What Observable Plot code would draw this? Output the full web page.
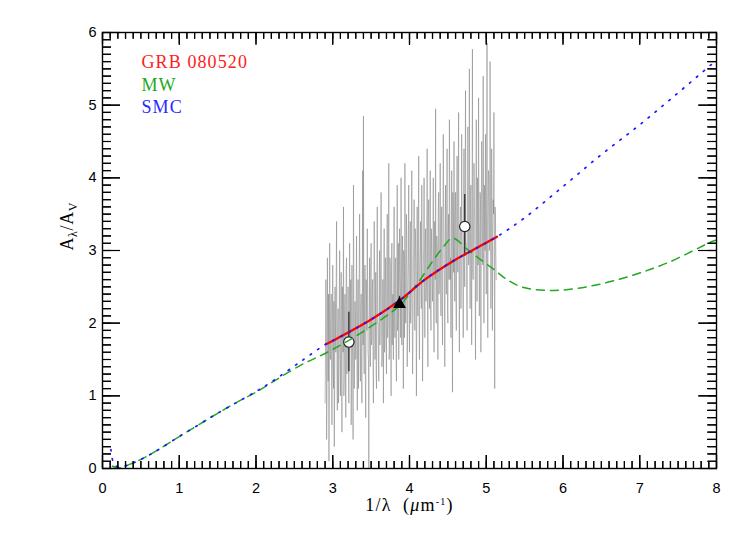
<!DOCTYPE html>
<html><head><meta charset="utf-8">
<script src="https://cdn.jsdelivr.net/npm/d3@7"></script>
<script src="https://cdn.jsdelivr.net/npm/@observablehq/plot@0.6"></script>
<style>body{margin:0;background:#fff;overflow:hidden}</style>
</head><body><div id="chart"></div>
<script>
// ---- data ----
const xDomain = [0, 8];
const yDomain = [0, 6];
const xMajor = [0, 1, 2, 3, 4, 5, 6, 7, 8];
const yMajor = [0, 1, 2, 3, 4, 5, 6];
const xMinor = d3.range(0, 8.0001, 0.1);
const yMinor = d3.range(0, 6.0001, 0.1);

const legendLabels = ["GRB 080520", "MW", "SMC"];
const legendColors = ["#ff2020", "#22a822", "#2a2aff"];

const xTitle = "1/λ (μm⁻¹)";
const yTitle = "Aλ/AV";

// SMC extinction curve (blue dotted)
const smcX = [0.11, 0.12, 0.14, 0.17, 0.23, 0.36, 0.47, 0.60, 0.76, 1.00, 1.25, 1.50, 1.75, 2.00, 2.20, 2.58, 2.91, 3.04, 3.50, 3.88, 4.20, 4.56, 4.85, 5.14, 5.50, 6.00, 6.50, 7.00, 7.50, 8.00];
const smcY = [0.26, 0.17, 0.09, 0.04, 0.02, 0.06, 0.11, 0.18, 0.28, 0.44, 0.60, 0.76, 0.91, 1.06, 1.19, 1.47, 1.71, 1.78, 2.05, 2.32, 2.60, 2.85, 3.02, 3.19, 3.45, 3.88, 4.32, 4.73, 5.17, 5.62];

// GRB 080520 fit (red solid)
const grbX = [2.91, 3.04, 3.50, 3.88, 4.20, 4.56, 4.85, 5.14];
const grbY = [1.71, 1.78, 2.05, 2.32, 2.60, 2.85, 3.02, 3.19];

// MW extinction curve (green dashed)
const mwX = [0.13, 0.23, 0.36, 0.47, 0.60, 0.76, 1.00, 1.25, 1.50, 1.75, 2.00, 2.20, 2.58, 2.93, 3.36, 3.88, 4.01, 4.14, 4.30, 4.45, 4.56, 4.75, 4.93, 5.10, 5.27, 5.49, 5.88, 6.36, 6.88, 7.36, 7.96, 8.00];
const mwY = [0.03, 0.01, 0.06, 0.11, 0.18, 0.28, 0.44, 0.60, 0.76, 0.91, 1.05, 1.18, 1.42, 1.60, 1.86, 2.25, 2.42, 2.60, 2.85, 3.06, 3.17, 3.02, 2.87, 2.74, 2.60, 2.49, 2.45, 2.51, 2.65, 2.83, 3.13, 3.14];

// photometric points (circles) with error bars
const photX = [3.21, 4.72];
const photY = [1.74, 3.33];
const photLo = [1.33, 2.92];
const photHi = [2.15, 3.77];

// triangle point
const triX = [3.87];
const triY = [2.26];
const triLo = [2.21];
const triHi = [2.37];

// observed spectrum (grey): two interleaved samplings starting at 2.900 and 2.905, step 0.01
const specX0 = 2.90, specStep = 0.01;
const specA = [
  0.9, 2.6, 0.4, 2.9, 1.2, 0.1, 3.1, 1.5, 2.4, 0.6,
  2.8, 1.1, 0.3, 2.5, 1.6, 3.4, 0.8, 2.2, 1.4, 3.0,
  1.0, 2.7, 0.5, 2.1, 3.6, 1.3, 2.4, 0.7, 2.9, 1.6,
  2.5, 0.9, 3.1, 1.7, 0.6, 2.8, 1.4, 3.9, 1.1, 2.3,
  1.5, 3.2, 0.8, 2.6, 1.9, 3.5, 1.2, 2.4, 0.9, 4.1,
  4.85, 1.3, 2.8, 0.7, 2.3, 3.3, 1.6, 0.0, 2.9, 1.4,
  3.1, 1.8, 2.6, 0.9, 3.4, 1.5, 2.7, 1.1, 3.6, 2.0,
  1.2, 3.0, 2.2, 3.8, 1.4, 2.6, 0.9, 3.3, 1.7, 2.9,
  1.3, 3.5, 2.0, 4.2, 1.6, 2.8, 1.0, 3.1, 2.3, 1.5,
  3.6, 1.8, 2.9, 1.2, 3.9, 2.1, 1.5, 3.3, 2.4, 4.0,
  1.7, 3.2, 1.1, 2.8, 4.2, 2.0, 3.5, 1.4, 2.6, 3.9,
  1.6, 3.4, 2.2, 4.1, 1.3, 2.9, 3.7, 1.9, 3.1, 1.0,
  3.6, 2.1, 4.3, 1.5, 3.0, 2.4, 3.9, 1.2, 2.8, 4.0,
  1.8, 3.3, 2.5, 4.4, 1.4, 3.7, 2.2, 4.1, 1.9, 3.0,
  2.3, 4.0, 1.6, 3.4, 4.95, 2.0, 3.1, 1.5, 3.8, 2.6,
  4.2, 2.1, 3.6, 1.7, 4.6, 2.9, 1.4, 3.9, 2.4, 4.4,
  2.0, 3.5, 4.8, 2.6, 1.8, 4.1, 1.05, 3.2, 4.5, 2.3,
  3.8, 1.9, 4.3, 2.7, 4.9, 1.6, 3.4, 2.2, 4.6, 3.0,
  1.8, 4.4, 2.5, 5.2, 3.1, 1.9, 4.7, 2.8, 5.5, 2.2,
  3.9, 1.7, 5.77, 2.6, 4.2, 3.0, 1.5, 4.8, 2.3, 3.6,
  5.1, 2.1, 3.8, 1.6, 4.5, 2.9, 5.4, 2.0, 3.5, 4.6,
  2.4, 5.86, 1.8, 4.1, 3.0, 5.6, 2.2, 4.4, 1.9, 3.7,
  4.9, 1.1, 3.5, 2.6
];
const specB = [
  1.5, 2.2, 1.0, 1.9, 2.4, 0.8, 1.7, 2.1, 1.2, 2.0,
  1.4, 2.3, 1.1, 1.9, 2.6, 1.3, 1.8, 0.9, 2.2, 1.6,
  2.0, 1.2, 2.5, 1.6, 1.0, 2.2, 1.5, 2.7, 1.3, 1.9,
  1.4, 2.1, 1.7, 2.6, 1.2, 1.9, 0.4, 2.3, 1.6, 2.0,
  2.4, 1.5, 2.0, 1.1, 2.7, 1.8, 2.2, 1.4, 2.5, 1.7,
  1.6, 2.3, 1.2, 2.6, 1.9, 2.4, 1.5, 2.1, 1.8, 2.7,
  1.7, 2.4, 1.4, 2.2, 2.8, 1.8, 1.3, 2.5, 2.0, 1.6,
  2.4, 1.7, 2.9, 2.0, 1.5, 2.6, 2.1, 1.6, 2.5, 1.9,
  2.7, 1.8, 2.3, 1.5, 2.9, 2.1, 2.6, 1.7, 2.4, 3.0,
  2.0, 2.8, 1.6, 2.5, 1.9, 3.1, 2.2, 2.7, 1.8, 2.4,
  2.8, 2.1, 3.0, 1.8, 2.6, 2.3, 3.2, 1.9, 2.9, 2.2,
  2.5, 2.0, 3.1, 2.4, 1.8, 2.9, 2.2, 3.3, 2.6, 2.1,
  2.3, 3.2, 2.0, 2.8, 3.4, 2.2, 2.6, 1.9, 3.0, 2.5,
  3.1, 2.3, 2.8, 2.0, 3.5, 2.6, 3.0, 2.2, 3.3, 2.7,
  2.9, 2.2, 3.4, 2.6, 2.1, 3.2, 2.8, 3.6, 2.4, 3.0,
  2.6, 3.3, 2.3, 3.0, 3.7, 2.5, 3.1, 2.8, 3.5, 2.2,
  3.2, 2.6, 3.6, 2.9, 3.3, 2.4, 3.8, 2.7, 3.1, 3.5,
  2.5, 3.4, 2.9, 3.9, 2.7, 3.2, 3.6, 2.6, 3.3, 2.9,
  3.5, 2.8, 3.8, 3.1, 2.6, 3.4, 3.9, 2.9, 3.3, 3.7,
  3.1, 3.6, 2.7, 3.4, 3.9, 2.9, 3.5, 3.2, 4.0, 2.8,
  3.4, 2.9, 3.7, 3.2, 4.1, 2.8, 3.5, 3.9, 3.0, 3.3,
  3.8, 2.9, 3.4, 4.0, 3.1, 3.6, 2.7, 3.9, 3.2, 3.5,
  3.0, 3.6, 2.9
];

// ---- tables built from the arrays ----
const smc = smcX.map((x, i) => ({x, y: smcY[i]}));
const grb = grbX.map((x, i) => ({x, y: grbY[i]}));
const mw = mwX.map((x, i) => ({x, y: mwY[i]}));
const spec = [];
specA.forEach((y, i) => {
  spec.push({x: specX0 + specStep * i, y});
  if (i < specB.length) spec.push({x: specX0 + specStep * (i + 0.5), y: specB[i]});
});
const phot = photX.map((x, i) => ({x, y: photY[i], lo: photLo[i], hi: photHi[i]}));
const tri = triX.map((x, i) => ({x, y: triY[i], lo: triLo[i], hi: triHi[i]}));

const W = 747, H = 534;
const mL = 102, mR = 31, mT = 32, mB = 66;
const noText = () => "";
const tickAxis = (axis, anchor, ticks, size) =>
  axis({anchor, ticks, tickSize: -size, tickFormat: noText, label: null, stroke: "black", strokeWidth: 1.2});

const plot = Plot.plot({
  width: W, height: H,
  marginLeft: mL, marginRight: mR, marginTop: mT, marginBottom: mB,
  x: {domain: xDomain},
  y: {domain: yDomain},
  style: {fontFamily: "Liberation Sans", fontSize: "14.5px", background: "white", color: "black"},
  marks: [
    // spectrum
    Plot.line(spec, {x: "x", y: "y", stroke: "#7d7d7d", strokeWidth: 0.6, strokeOpacity: 0.85, clip: true}),
    // error bars + circles
    Plot.ruleX(phot, {x: "x", y1: "lo", y2: "hi", stroke: "#333", strokeWidth: 1.4}),
    Plot.ruleX(tri, {x: "x", y1: "lo", y2: "hi", stroke: "#333", strokeWidth: 1.4}),
    Plot.dot(phot, {x: "x", y: "y", r: 5.2, stroke: "#222", strokeWidth: 1.2, fill: "white"}),
    // curves
    Plot.line(mw, {x: "x", y: "y", stroke: "#22a822", strokeWidth: 1.5, strokeDasharray: "8,6", curve: "catmull-rom"}),
    Plot.line(grb, {x: "x", y: "y", stroke: "#ff0000", strokeWidth: 2.3, curve: "catmull-rom"}),
    Plot.line(smc, {x: "x", y: "y", stroke: "#1a1aff", strokeWidth: 1.7, strokeDasharray: "1.5,7.5", curve: "catmull-rom", clip: true}),
    Plot.dot(tri, {x: "x", y: "y", symbol: "triangle", r: 3.8, fill: "black", stroke: "black"}),
    Plot.frame({stroke: "black", strokeWidth: 1.4}),
    // inward ticks on all four sides (Plot axes with negative tick size)
    tickAxis(Plot.axisX, "bottom", xMinor, 7),
    tickAxis(Plot.axisX, "bottom", xMajor, 13),
    tickAxis(Plot.axisX, "top", xMinor, 6),
    tickAxis(Plot.axisX, "top", xMajor, 12),
    tickAxis(Plot.axisY, "left", yMinor, 9),
    tickAxis(Plot.axisY, "left", yMajor, 18),
    tickAxis(Plot.axisY, "right", yMinor, 9),
    tickAxis(Plot.axisY, "right", yMajor, 18),
    // tick labels
    Plot.axisX({ticks: xMajor, tickSize: 0, tickPadding: 14, tickFormat: "d", label: null}),
    Plot.axisY({ticks: yMajor, tickSize: 0, tickPadding: 6, tickFormat: "d", label: null}),
    // axis titles
    Plot.text([xTitle], {text: d => d, frameAnchor: "bottom", dy: 37, lineAnchor: "middle", fontFamily: "Liberation Serif", fontSize: 18}),
    Plot.text([yTitle], {text: d => d, frameAnchor: "left", dx: -35, rotate: -90, lineAnchor: "middle", fontFamily: "Liberation Serif", fontSize: 18}),
    // legend
    ...legendLabels.map((lab, i) => Plot.text([lab], {
      text: d => d, frameAnchor: "top-left", dx: 39, dy: 30 + 22.3 * i,
      textAnchor: "start", lineAnchor: "middle",
      fill: legendColors[i], fontFamily: "Liberation Serif", fontSize: 18
    }))
  ]
});

document.getElementById("chart").appendChild(plot);
const svg = d3.select(plot);

// remove the empty label texts of the tick-only axes
svg.selectAll("text").filter(function() { return this.textContent === ""; }).remove();

// second drawing of the inward ticks as one path, positioned through Plot's own scales
const sx = plot.scale("x"), sy = plot.scale("y");
const yb = sy.apply(yDomain[0]), yt = sy.apply(yDomain[1]);
const xl = sx.apply(xDomain[0]), xr = sx.apply(xDomain[1]);
let d = "";
function xTick(v, len) {
  const x = sx.apply(v) + 0.5;
  d += `M${x},${yb}V${yb - len}M${x},${yt}V${yt + len * 0.9}`;
}
function yTick(v, len) {
  const y = sy.apply(v) + 0.5;
  d += `M${xl},${y}H${xl + len}M${xr},${y}H${xr - len}`;
}
xMinor.forEach(v => xTick(v, 7));
xMajor.forEach(v => xTick(v, 13));
yMinor.forEach(v => yTick(v, 9));
yMajor.forEach(v => yTick(v, 18));
svg.append("path").attr("d", d).attr("fill", "none").attr("stroke", "black").attr("stroke-width", 1.2);

// subscripts / superscripts / letter spacing, kept as real text
svg.selectAll("text").each(function() {
  const t = this.textContent;
  const el = d3.select(this);
  if (t === yTitle) {
    el.text(null).style("letter-spacing", "0.6px");
    el.append("tspan").text("A");
    el.append("tspan").text("λ").attr("font-size", 12).attr("dy", 4);
    el.append("tspan").text("/A").attr("dy", -4);
    el.append("tspan").text("V").attr("font-size", 12).attr("dy", 4);
  } else if (t === xTitle) {
    el.text(null).style("letter-spacing", "1.2px");
    el.append("tspan").text("1/λ  (");
    el.append("tspan").text("μ").attr("font-style", "italic");
    el.append("tspan").text("m");
    el.append("tspan").text("-1").attr("font-size", 10).attr("dy", -6);
    el.append("tspan").text(")").attr("dy", 6);
  } else if (legendLabels.includes(t)) {
    el.style("letter-spacing", "1.1px");
  }
});
</script></body></html>
